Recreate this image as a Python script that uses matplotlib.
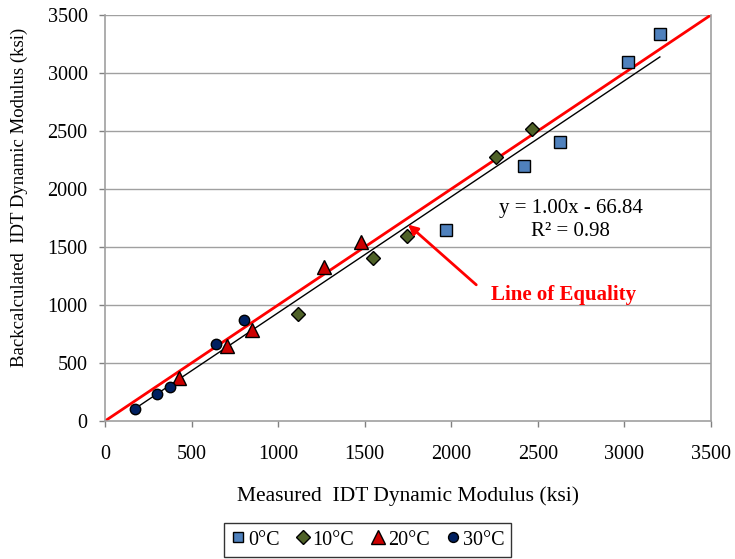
import matplotlib
matplotlib.use("Agg")
import matplotlib.pyplot as plt
import numpy as np

plt.rcParams['font.family'] = ['Liberation Serif', 'DejaVu Serif']

# Data
x0 = [1968, 2420, 2629, 3020, 3206]
y0 = [1647, 2198, 2408, 3092, 3336]
x10 = [1113, 1550, 1747, 2261, 2465]
y10 = [925, 1402, 1595, 2273, 2514]
x20 = [427, 703, 849, 1263, 1479]
y20 = [368, 650, 785, 1325, 1545]
x30 = [171, 300, 377, 639, 803]
y30 = [103, 233, 293, 664, 870]
slope, intercept = 1.00, -66.84
xticks = [0, 500, 1000, 1500, 2000, 2500, 3000, 3500]
yticks = [0, 500, 1000, 1500, 2000, 2500, 3000, 3500]

fig = plt.figure(figsize=(7.35, 5.59), dpi=100)
ax = fig.add_axes([0.143, 0.247, 0.824, 0.726])

fs_tick = 14.5
fs = 15
for y in yticks[1:]:
    ax.axhline(y, color='#a0a0a0', lw=1.0, zorder=0)

allx = x0 + x10 + x20 + x30
xs = np.array([min(allx), max(allx)])
ax.plot([0, 3500], [0, 3500], color='#ff0000', lw=2.0, zorder=2)
ax.plot(xs, slope * xs + intercept, color='black', lw=1.0, zorder=3)

h0, = ax.plot(x0, y0, 's', ms=8, mfc='#4F81BD', mec='black', mew=1.0, ls='none', zorder=4, label='0°C')
h10, = ax.plot(x10, y10, 'D', ms=7, mfc='#4F6228', mec='black', mew=1.0, ls='none', zorder=4, label='10°C')
h20, = ax.plot(x20, y20, '^', ms=10, mfc='#CC0000', mec='black', mew=1.0, ls='none', zorder=4, label='20°C')
h30, = ax.plot(x30, y30, 'o', ms=7.5, mfc='#002060', mec='black', mew=1.0, ls='none', zorder=4, label='30°C')

ax.set_xlim(0, 3500)
ax.set_ylim(0, 3500)
ax.set_xticks(xticks)
ax.set_yticks(yticks)
ax.tick_params(direction='out', length=4.5, color='#808080', labelsize=fs_tick, width=1)
ax.tick_params(axis='x', pad=13)
ax.tick_params(axis='y', pad=8)
for s in ['left', 'bottom', 'right']:
    ax.spines[s].set_color('#a0a0a0')
    ax.spines[s].set_linewidth(1.2)
ax.spines['top'].set_visible(False)

ax.set_xlabel('Measured  IDT Dynamic Modulus (ksi)', fontsize=15.5, labelpad=16)
ax.set_ylabel('Backcalculated  IDT Dynamic Modulus (ksi)', fontsize=13.5, labelpad=14)
ax.yaxis.label.set_y(0.552)

ax.text(2690, 1833, 'y = 1.00x - 66.84', fontsize=fs, ha='center', va='center', zorder=5)
ax.text(2690, 1632, 'R² = 0.98', fontsize=fs, ha='center', va='center', zorder=5)

ax.annotate('', xy=(1739, 1709), xytext=(2157, 1158),
            arrowprops=dict(arrowstyle='-|>', color='#ff0000', lw=2, mutation_scale=14), zorder=5)
ax.text(2652, 1086, 'Line of Equality', fontsize=fs, color='#ff0000', fontweight='bold',
        ha='center', va='center', zorder=5)

leg = fig.legend(handles=[h0, h10, h20, h30], loc='center', bbox_to_anchor=(0.5, 0.034),
                 ncol=4, fontsize=fs_tick, frameon=True, fancybox=False, edgecolor='black',
                 handlelength=0.7, handletextpad=0.15, columnspacing=0.8, borderpad=0.35,
                 borderaxespad=0.0, markerscale=0.95)
leg.get_frame().set_linewidth(1.0)

fig.savefig('out.png', dpi=100)
